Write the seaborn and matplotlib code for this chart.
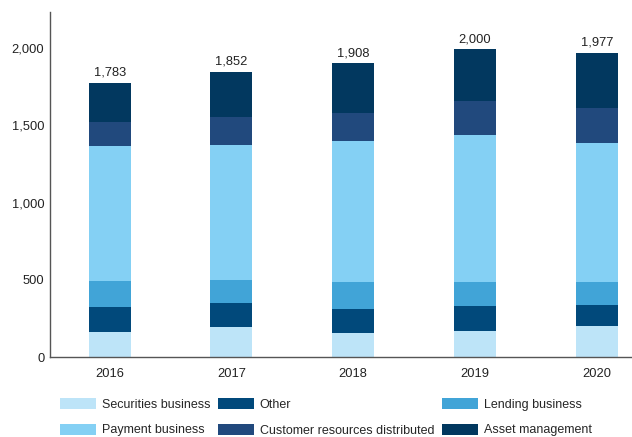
import numpy as np
import pandas as pd
import matplotlib
matplotlib.use("Agg")
import matplotlib.pyplot as plt
import seaborn as sns
from matplotlib.patches import Patch

# values (stack order: bottom -> top)
years = ["2016", "2017", "2018", "2019", "2020"]
securities = [163, 194, 159, 168, 200]
other = [160, 159, 155, 163, 140]
lending = [172, 146, 172, 155, 146]
payment = [868, 874, 911, 948, 900]
cust_resources = [155, 177, 179, 222, 223]
asset_mgmt = [254, 293, 323, 334, 359]
total_labels = ["1,783", "1,852", "1,908", "2,000", "1,977"]

series_names = ["Securities business", "Other", "Lending business",
                "Payment business", "Customer resources distributed",
                "Asset management"]
series_vals = [securities, other, lending, payment, cust_resources, asset_mgmt]
colors = ["#bde4f8", "#01497b", "#41a4d7", "#84d0f4", "#21497d", "#02385f"]

df = pd.DataFrame(dict(zip(series_names, series_vals)), index=years)
cum = df.cumsum(axis=1)

sns.set_theme(style="white")
plt.rcParams["font.family"] = ["Liberation Sans", "DejaVu Sans"]

fig = plt.figure(figsize=(6.32, 4.37), dpi=100)
ax = fig.add_axes([0.0791, 0.1824, 0.9209, 0.7895])

# stacked bars: draw cumulative totals from the top series down
for name, col in reversed(list(zip(series_names, colors))):
    sns.barplot(x=years, y=cum[name].values, color=col, width=0.345,
                linewidth=0, saturation=1, ax=ax)

for i, lab in enumerate(total_labels):
    ax.annotate(lab, (i, cum.iloc[i, -1]), xytext=(0, 3),
                textcoords="offset points", ha="center", va="bottom",
                fontsize=9.3, color="#222222")

ax.set_xlim(-0.49, 4.29)
ax.set_ylim(0, 2230)
ax.set_yticks([0, 500, 1000, 1500, 2000])
ax.yaxis.set_major_formatter(matplotlib.ticker.FuncFormatter(lambda v, p: f"{int(v):,}"))
ax.tick_params(axis="y", direction="in", length=10, width=1, color="#555555",
               labelsize=9.3, pad=4, labelcolor="#222222")
ax.tick_params(axis="x", length=0, labelsize=9.3, pad=8, labelcolor="#222222")
ax.set_xlabel("")
ax.set_ylabel("")
for s in ["top", "right"]:
    ax.spines[s].set_visible(False)
for s in ["left", "bottom"]:
    ax.spines[s].set_color("#555555")
    ax.spines[s].set_linewidth(1)

# legend (column-major order to match reference layout)
order = [0, 3, 1, 4, 2, 5]
handles = [Patch(facecolor=colors[k], edgecolor="none", label=series_names[k]) for k in order]
fig.legend(handles=handles, ncol=3, loc="upper left",
           bbox_to_anchor=(60 / 632, 1 - 398 / 437), frameon=False,
           fontsize=9, handlelength=2.9, handleheight=0.95, handletextpad=0.45,
           columnspacing=0.6, labelspacing=1.05, borderpad=0, borderaxespad=0)

fig.savefig("out.png", dpi=100)
